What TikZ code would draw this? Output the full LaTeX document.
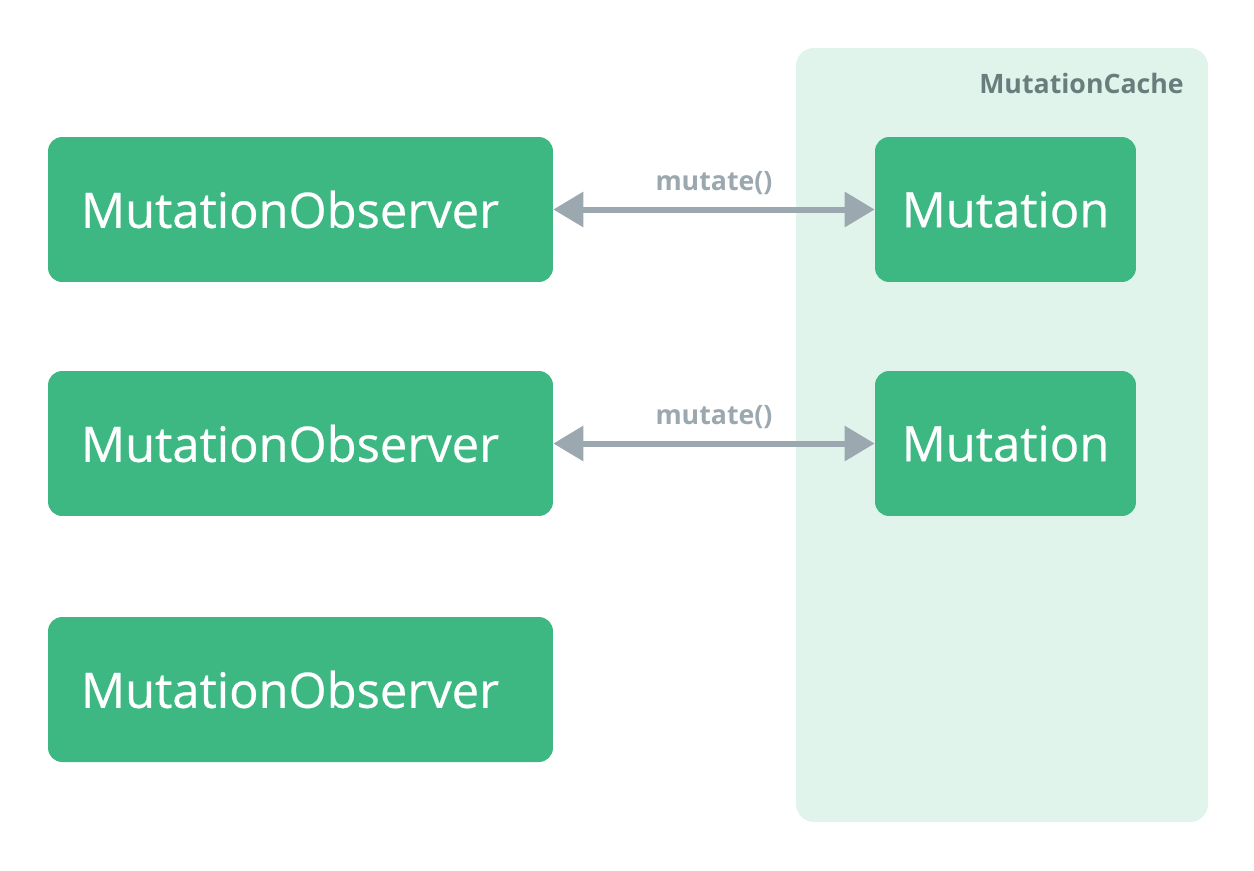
\documentclass[tikz,border=0pt]{standalone}
\usepackage{fontspec}
\setmainfont{Open Sans}
\newfontfamily\boxfont[FakeBold=0.5]{Open Sans}
\usepackage{tikz}
\usetikzlibrary{arrows.meta}
\usetikzlibrary{positioning}

\definecolor{boxgreen}{HTML}{3DB883}
\definecolor{cachebg}{HTML}{E1F4EB}
\definecolor{arrowgray}{HTML}{9BA8AF}
\definecolor{cachetext}{HTML}{6A7D7D}

\tikzset{
  obsbox/.style={fill=boxgreen, rounded corners=0.28cm, text=white,
    minimum width=10.1cm, minimum height=2.9cm, inner xsep=0.66cm,
    text width=8.78cm, align=left, font=\boxfont\fontsize{27.8}{30}\selectfont},
  mutbox/.style={fill=boxgreen, rounded corners=0.28cm, text=white,
    minimum width=5.22cm, minimum height=2.9cm,
    font=\boxfont\fontsize{27.8}{30}\selectfont},
  callarrow/.style={arrowgray, line width=0.12cm,
    {Triangle[length=0.6cm, width=0.68cm]}-{Triangle[length=0.6cm, width=0.68cm]}},
  calllabel/.style={text=arrowgray, font=\bfseries\fontsize{15.2}{18}\selectfont}
}

\begin{document}
\begin{tikzpicture}[x=0.02cm, y=-0.02cm]
  \useasboundingbox (0, 0) rectangle (1254, 870);
  % cache panel
  \fill [cachebg, rounded corners=0.36cm] (796, 48) rectangle (1208, 822);
  \node [anchor=east, text=cachetext, font=\bfseries\fontsize{15.2}{18}\selectfont]
    (cachelabel) at (1190, 83) {MutationCache};

  \foreach \i/\y in {1/209.5, 2/443.5, 3/689.5}{
    \node [obsbox] (obs\i) at (300.5, \y) {MutationObserver};
  }
  \foreach \i/\y in {1/209.5, 2/443.5}{
    \node [mutbox] (mut\i) at (1005.5, \y) {Mutation};
    \draw [callarrow] (obs\i) -- node [calllabel, above=0.12cm] {mutate()} (mut\i);
  }
\end{tikzpicture}
\end{document}
